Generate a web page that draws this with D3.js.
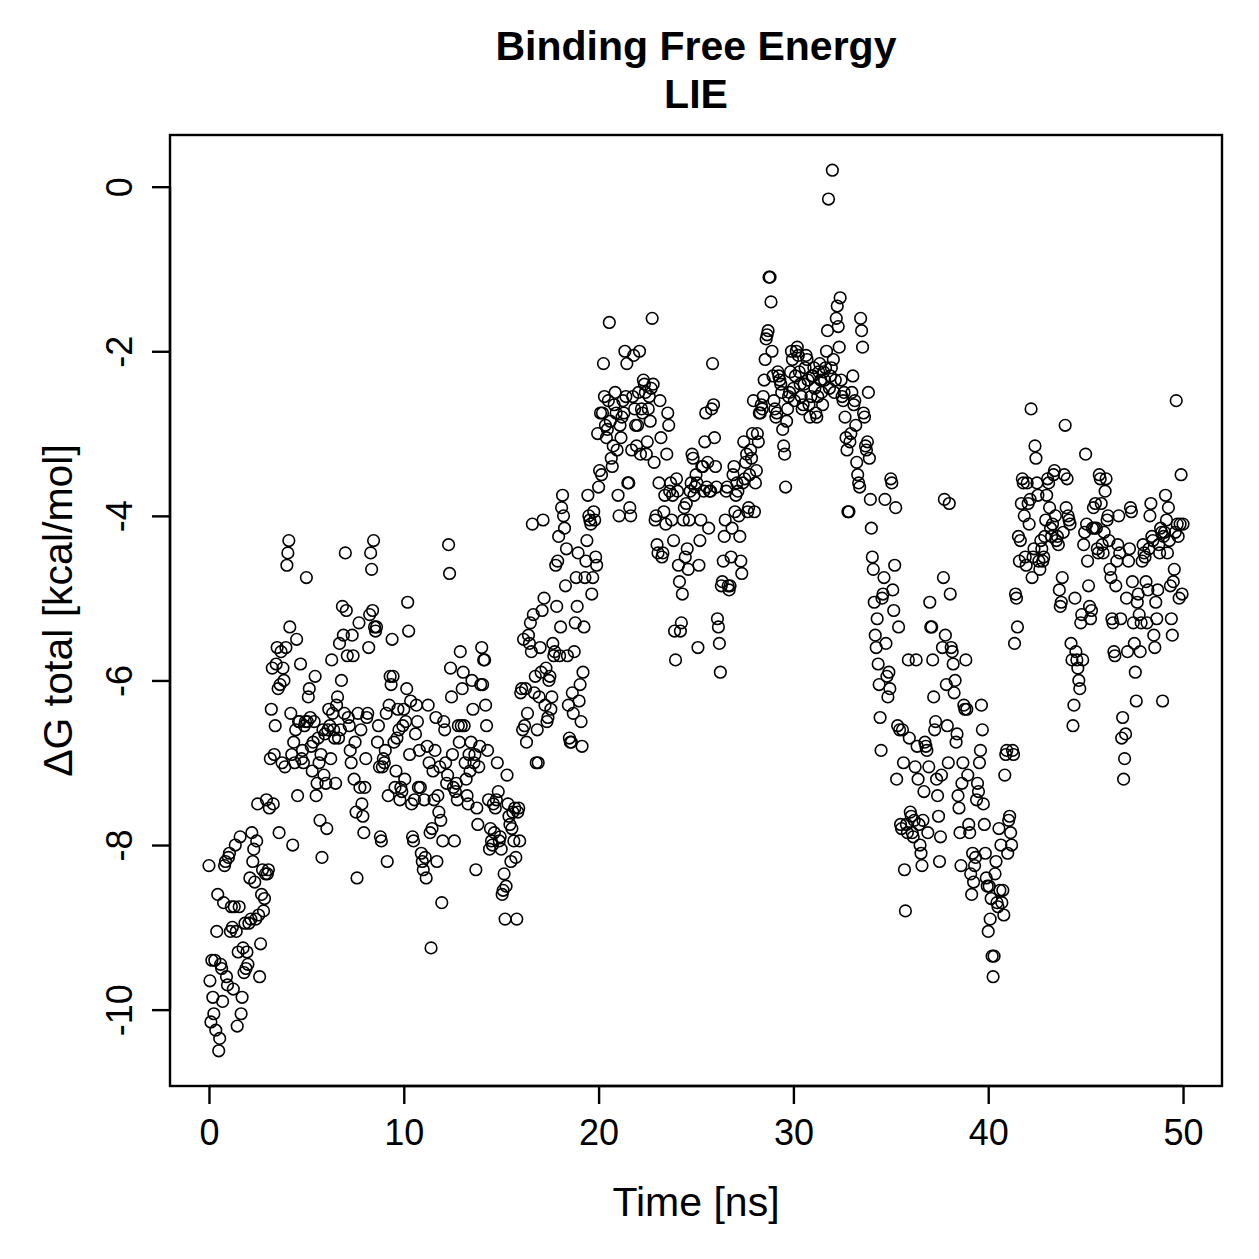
<!DOCTYPE html>
<html>
<head>
<meta charset="utf-8">
<script src="https://cdn.jsdelivr.net/npm/d3@7"></script>
<style>
  body { margin: 0; background: #fff; }
  text { font-family: "Liberation Sans", Arial, sans-serif; fill: #000; }
</style>
</head>
<body>
<svg id="svg1"></svg>
<script>
// frames every 50 ps, one row per ns (values in kcal/mol)
const dG = [
  [-8.25,-9.65,-10.15,-9.4,-9.85,-10.05,-9.4,-10.25,-9.05,-8.6,-10.5,-10.35,-9.45,-9.5,-9.9,-8.7,-8.25,-8.2,-9.6,-9.7],
  [-8.15,-8.1,-9.05,-8.75,-9.0,-9.75,-8.75,-8.0,-9.05,-10.2,-9.3,-8.75,-7.9,-10.05,-9.85,-9.25,-9.55,-8.95,-9.5,-9.3],
  [-9.45,-8.95,-8.4,-8.9,-7.85,-8.2,-8.05,-8.45,-8.9,-7.95,-7.5,-8.85,-9.6,-9.2,-8.6,-8.3,-8.8,-8.65,-8.35,-7.45],
  [-8.35,-8.3,-7.55,-6.95,-6.35,-5.85,-7.5,-6.9,-6.55,-5.8,-5.6,-6.1,-7.85,-6.05,-5.65,-7.0,-5.85,-6.0,-7.05,-5.6],
  [-4.6,-4.45,-4.3,-5.35,-6.4,-6.9,-8.0,-6.75,-7.0,-6.6,-5.5,-7.4,-6.5,-6.5,-5.8,-6.95,-6.85,-7.0,-6.55,-6.5],
  [-4.75,-6.5,-6.2,-6.1,-6.45,-6.8,-7.1,-6.75,-6.5,-5.95,-7.4,-7.25,-6.7,-7.0,-7.7,-6.9,-8.15,-6.6,-7.15,-6.65],
  [-7.25,-7.8,-6.6,-6.35,-6.55,-6.95,-5.75,-6.4,-6.6,-6.7,-7.25,-6.3,-6.2,-6.7,-5.55,-6.6,-6.0,-5.1,-5.45,-6.4],
  [-4.45,-5.15,-5.7,-6.45,-6.55,-6.85,-7.0,-5.45,-5.7,-7.2,-6.75,-7.6,-8.4,-6.4,-5.3,-7.3,-6.6,-7.5,-7.65,-7.85],
  [-7.3,-6.95,-6.45,-6.4,-5.6,-5.2,-4.45,-4.65,-5.15,-4.3,-5.35,-5.4,-5.35,-6.75,-6.55,-7.05,-7.9,-7.95,-7.05,-6.95],
  [-7.0,-6.85,-6.4,-8.2,-7.4,-6.3,-5.95,-6.05,-5.5,-5.95,-6.75,-7.3,-7.1,-6.7,-6.35,-6.6,-7.45,-7.3,-7.35,-6.55],
  [-6.35,-7.2,-6.5,-6.1,-5.05,-5.4,-6.9,-6.25,-7.5,-7.9,-7.95,-7.45,-6.65,-6.3,-6.5,-7.3,-6.85,-7.3,-8.1,-8.2],
  [-8.3,-7.45,-8.15,-8.4,-6.8,-6.3,-7.0,-7.85,-9.25,-7.8,-7.1,-7.45,-6.85,-6.45,-8.2,-7.4,-7.6,-7.05,-7.7,-8.7],
  [-7.95,-6.5,-6.6,-7.0,-7.25,-7.15,-4.35,-4.7,-5.85,-6.2,-6.9,-7.3,-7.95,-7.35,-7.25,-7.45,-6.55,-6.75,-5.65,-6.55],
  [-6.1,-5.9,-6.55,-7.0,-7.2,-7.4,-7.5,-6.9,-7.1,-6.75,-6.0,-6.35,-7.0,-6.9,-8.3,-7.55,-7.75,-7.05,-6.8,-6.05],
  [-5.6,-6.05,-5.75,-5.75,-6.3,-6.55,-6.85,-7.45,-8.05,-7.8,-7.95,-8.0,-7.5,-7.85,-7.55,-7.45,-7.0,-7.35,-7.95,-7.9],
  [-8.05,-8.6,-8.55,-8.35,-8.9,-8.5,-7.15,-7.5,-7.65,-7.75,-8.2,-7.8,-7.6,-7.95,-7.55,-8.15,-8.9,-7.6,-7.55,-7.95],
  [-6.15,-6.1,-6.6,-5.5,-6.55,-6.1,-6.75,-6.4,-5.45,-5.55,-5.3,-5.65,-4.1,-5.2,-6.15,-5.95,-7.0,-6.6,-7.0,-6.2],
  [-5.6,-5.9,-5.15,-4.05,-5.0,-6.3,-5.85,-6.5,-6.45,-6.0,-5.95,-6.35,-6.2,-5.55,-5.7,-5.65,-4.6,-5.1,-4.55,-4.25],
  [-5.7,-5.35,-3.9,-3.75,-4.0,-4.15,-4.85,-4.4,-5.7,-6.3,-6.7,-6.75,-6.75,-6.15,-6.4,-5.65,-5.3,-4.75,-5.1,-4.45],
  [-6.25,-6.05,-6.5,-6.8,-5.9,-5.35,-4.75,-4.55,-4.3,-3.75,-4.0,-4.05,-4.1,-4.95,-4.75,-3.95,-4.05,-4.5,-4.6,-3.0],
  [-3.65,-3.45,-2.75,-3.5,-2.75,-2.15,-2.55,-2.9,-3.05,-2.95,-2.6,-1.65,-2.85,-3.3,-3.4,-3.15,-2.65,-2.5,-2.75,-3.2],
  [-3.75,-4.0,-2.9,-3.05,-2.8,-2.6,-2.75,-2.0,-2.55,-2.15,-3.6,-3.6,-3.9,-4.0,-3.2,-2.55,-2.05,-2.7,-2.9,-3.15],
  [-2.9,-2.5,-2.0,-3.25,-2.7,-2.75,-2.35,-2.4,-2.5,-3.25,-3.1,-2.7,-2.55,-2.85,-2.45,-1.6,-2.4,-3.35,-4.05,-4.0],
  [-4.35,-4.45,-3.6,-2.6,-3.05,-4.5,-4.45,-3.95,-3.75,-4.1,-3.25,-2.75,-2.9,-3.7,-3.6,-4.05,-3.75,-4.3,-5.4,-5.75],
  [-3.55,-3.7,-4.6,-4.8,-5.4,-5.3,-4.95,-4.05,-3.9,-4.5,-3.85,-4.4,-4.65,-4.05,-3.7,-3.6,-3.25,-3.3,-3.75,-3.65],
  [-3.5,-3.6,-5.6,-4.6,-4.3,-4.05,-3.4,-3.4,-3.7,-3.1,-2.75,-3.65,-3.35,-4.15,-3.7,-3.7,-2.7,-2.15,-2.65,-3.05],
  [-3.4,-3.65,-5.25,-5.35,-5.55,-5.9,-4.85,-4.8,-4.55,-4.25,-4.05,-3.7,-3.65,-4.85,-4.9,-4.85,-4.5,-4.15,-3.5,-3.4],
  [-3.95,-3.75,-3.6,-3.7,-4.0,-4.25,-4.55,-4.7,-3.6,-3.1,-3.55,-3.35,-3.25,-3.95,-3.9,-3.5,-3.2,-3.3,-3.0,-2.6],
  [-3.95,-3.6,-3.45,-3.0,-3.1,-2.75,-2.75,-2.65,-2.7,-2.55,-2.35,-2.1,-1.85,-1.8,-1.75,-1.1,-1.1,-1.4,-2.0,-2.3],
  [-2.6,-2.7,-2.8,-2.75,-2.25,-2.3,-2.35,-2.4,-2.5,-2.95,-3.15,-3.25,-3.65,-2.85,-2.7,-2.55,-2.5,-2.25,-2.0,-2.1],
  [-2.45,-2.6,-2.3,-2.0,-1.95,-2.05,-2.25,-2.4,-2.55,-2.7,-2.65,-2.4,-2.2,-2.05,-2.1,-2.35,-2.65,-2.8,-2.55,-2.3],
  [-2.3,-2.2,-2.45,-2.75,-2.8,-2.55,-2.25,-2.15,-2.35,-2.5,-2.65,-2.25,-2.35,-2.2,-2.0,-1.75,-0.15,-2.45,-2.3,-2.2],
  [0.2,-2.1,-2.5,-2.35,-1.6,-1.45,-1.7,-1.95,-1.35,-2.35,-2.55,-2.6,-2.5,-2.8,-3.05,-3.2,-3.95,-3.95,-3.1,-3.0],
  [-2.5,-2.3,-2.65,-2.6,-2.9,-3.35,-3.5,-3.6,-3.65,-1.6,-1.75,-1.95,-2.75,-2.8,-3.15,-3.2,-3.1,-2.5,-3.3,-3.8],
  [-4.15,-4.5,-4.65,-5.05,-5.45,-5.6,-5.25,-5.8,-6.05,-6.45,-6.85,-5.0,-4.95,-4.75,-3.8,-5.55,-5.95,-6.2,-5.9,-6.1],
  [-3.55,-3.6,-4.9,-5.15,-4.6,-3.9,-7.2,-6.55,-5.35,-6.6,-7.75,-7.8,-6.6,-7.0,-8.3,-8.8,-7.75,-7.85,-5.75,-6.7],
  [-7.6,-7.65,-7.85,-7.9,-7.7,-7.05,-5.75,-6.8,-7.2,-7.75,-8.0,-8.1,-8.25,-7.7,-7.35,-6.75,-6.8,-6.85,-7.85,-7.05],
  [-5.05,-5.35,-5.35,-5.75,-6.2,-6.6,-6.5,-7.2,-7.4,-7.65,-8.2,-7.9,-7.15,-5.6,-4.75,-3.8,-5.45,-6.05,-6.55,-7.0],
  [-3.85,-4.95,-5.6,-5.65,-5.8,-6.15,-6.0,-6.75,-6.65,-7.4,-7.55,-7.85,-8.25,-7.25,-7.0,-6.3,-6.35,-5.75,-6.35,-7.15],
  [-7.75,-7.85,-8.35,-8.6,-8.1,-8.45,-8.25,-8.15,-7.45,-7.25,-7.35,-7.0,-6.85,-6.3,-6.6,-7.5,-7.75,-8.1,-8.4,-8.5],
  [-9.05,-8.5,-8.9,-8.65,-9.35,-9.6,-9.35,-8.35,-8.2,-8.7,-8.75,-7.8,-8.55,-8.0,-8.7,-8.55,-8.85,-7.15,-6.9,-6.85],
  [-8.1,-7.7,-7.65,-7.85,-8.0,-6.85,-6.9,-5.55,-4.95,-5.0,-5.35,-4.25,-4.55,-4.3,-3.85,-3.55,-3.6,-4.0,-4.5,-4.6],
  [-3.6,-3.85,-4.1,-3.8,-2.7,-4.75,-4.5,-4.4,-3.15,-3.3,-3.6,-3.75,-4.55,-4.65,-4.3,-4.4,-4.55,-4.5,-4.25,-4.05],
  [-3.75,-3.55,-3.6,-3.9,-4.15,-4.25,-4.1,-3.5,-3.45,-4.0,-4.3,-4.25,-4.35,-4.9,-5.1,-5.05,-4.75,-4.2,-3.5,-2.9],
  [-3.9,-3.55,-4.0,-4.05,-4.1,-5.55,-5.75,-6.55,-6.3,-5.0,-5.65,-5.75,-5.85,-6.0,-6.1,-5.3,-5.2,-5.75,-4.35,-4.2],
  [-3.25,-4.1,-4.55,-4.85,-5.1,-5.25,-5.15,-4.15,-3.9,-4.15,-3.85,-4.15,-4.4,-4.45,-3.5,-3.55,-3.85,-4.35,-4.45,-4.2],
  [-3.7,-3.55,-4.05,-4.0,-4.3,-4.65,-4.75,-5.25,-5.3,-5.65,-5.7,-4.85,-4.55,-4.35,-4.0,-4.45,-5.25,-6.7,-6.45,-7.2],
  [-6.95,-6.65,-5.0,-5.65,-4.55,-4.4,-3.9,-3.95,-4.8,-5.3,-5.55,-5.9,-6.25,-5.05,-4.95,-5.2,-5.65,-5.3,-4.55,-4.35],
  [-4.45,-4.5,-4.8,-5.3,-4.9,-4.4,-4.0,-3.85,-4.25,-4.3,-5.45,-5.6,-5.05,-5.25,-4.9,-4.35,-4.45,-4.15,-4.2,-6.25],
  [-4.25,-4.2,-3.75,-4.05,-4.45,-3.9,-4.3,-4.85,-5.25,-5.45,-4.8,-4.65,-4.2,-2.6,-4.1,-4.25,-5.0,-4.1,-3.5,-4.95],
  [-4.1]
];
const dt = 0.05;
const xTicks = [0, 10, 20, 30, 40, 50];
const yTicks = [-10, -8, -6, -4, -2, 0];
const title = ["Binding Free Energy", "LIE"];

const width = 1259, height = 1259;
const margin = {left: 170, right: 37, top: 135, bottom: 173};

// flatten into points
const points = dG.flatMap((row, ns) => row.map((v, j) => ({t: ns + j * dt, g: v})));

// R style 4% padding
const xExt = d3.extent(points, d => d.t), yExt = d3.extent(points, d => d.g);
const xPad = (xExt[1] - xExt[0]) * 0.04, yPad = (yExt[1] - yExt[0]) * 0.04;

const x = d3.scaleLinear([xExt[0] - xPad, xExt[1] + xPad], [margin.left, width - margin.right]);
const y = d3.scaleLinear([yExt[0] - yPad, yExt[1] + yPad], [height - margin.bottom, margin.top]);

const svg = d3.select("#svg1")
  .attr("width", width)
  .attr("height", height)
  .attr("viewBox", [0, 0, width, height]);

svg.append("rect").attr("width", width).attr("height", height).attr("fill", "#fff");

// points
svg.append("g")
  .attr("fill", "none")
  .attr("stroke", "#000")
  .attr("stroke-width", 1.6)
  .selectAll()
  .data(points)
  .join("circle")
  .attr("cx", d => x(d.t))
  .attr("cy", d => y(d.g))
  .attr("r", 5.8);

// box
svg.append("rect")
  .attr("x", margin.left).attr("y", margin.top)
  .attr("width", width - margin.left - margin.right)
  .attr("height", height - margin.top - margin.bottom)
  .attr("fill", "none").attr("stroke", "#000").attr("stroke-width", 2.4);

// x axis
const xAxis = svg.append("g")
  .attr("transform", `translate(0,${height - margin.bottom})`)
  .call(d3.axisBottom(x).tickValues(xTicks).tickFormat(d3.format("d")).tickSize(18).tickPadding(15));
xAxis.select(".domain").attr("d", `M${x(0)},0H${x(50)}`).attr("stroke-width", 2.4);
xAxis.selectAll(".tick line").attr("stroke-width", 2.4);
xAxis.selectAll("text").style("font-size", "36px").attr("fill", "#000");

// y axis
const yAxis = svg.append("g")
  .attr("transform", `translate(${margin.left},0)`)
  .call(d3.axisLeft(y).tickValues(yTicks).tickFormat(d => d).tickSize(18).tickPadding(14));
yAxis.select(".domain").attr("d", `M0,${y(-10)}V${y(0)}`).attr("stroke-width", 2.4);
yAxis.selectAll(".tick line").attr("stroke-width", 2.4);
yAxis.selectAll("text")
  .style("font-size", "36px")
  .attr("fill", "#000")
  .attr("x", null).attr("dy", null)
  .attr("text-anchor", "middle")
  .attr("transform", "translate(-38,0) rotate(-90)");

// labels
svg.append("text")
  .attr("x", (margin.left + width - margin.right) / 2)
  .attr("y", 1216)
  .attr("text-anchor", "middle")
  .style("font-size", "41px")
  .text("Time [ns]");

svg.append("text")
  .attr("transform", `translate(72,${(margin.top + height - margin.bottom) / 2}) rotate(-90)`)
  .attr("text-anchor", "middle")
  .style("font-size", "41px")
  .text("ΔG total [kcal/mol]");

svg.append("g")
  .selectAll()
  .data(title)
  .join("text")
  .attr("x", (margin.left + width - margin.right) / 2)
  .attr("y", (d, i) => 60 + i * 48)
  .attr("text-anchor", "middle")
  .style("font-size", "41px")
  .style("font-weight", "bold")
  .text(d => d);
</script>
</body>
</html>
